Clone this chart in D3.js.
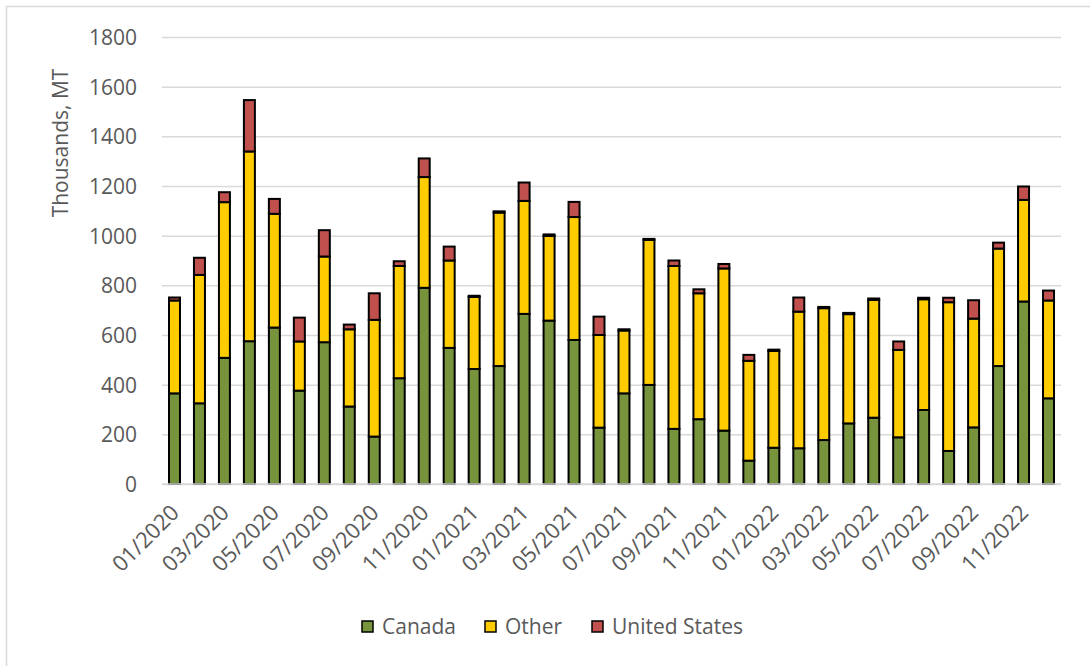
<!DOCTYPE html>
<html>
<head>
<meta charset="utf-8">
<script src="https://cdn.jsdelivr.net/npm/d3@7"></script>
<style>
  body { margin: 0; background: #fff; }
  svg text { font-family: "Open Sans", "Liberation Sans", sans-serif; fill: #595959; }
</style>
</head>
<body>
<div id="wrap"></div>
<script>
//  Month labels, one per bar (every other one is shown on the axis)
const months = [
  "01/2020", "02/2020", "03/2020", "04/2020", "05/2020", "06/2020",
  "07/2020", "08/2020", "09/2020", "10/2020", "11/2020", "12/2020",
  "01/2021", "02/2021", "03/2021", "04/2021", "05/2021", "06/2021",
  "07/2021", "08/2021", "09/2021", "10/2021", "11/2021", "12/2021",
  "01/2022", "02/2022", "03/2022", "04/2022", "05/2022", "06/2022",
  "07/2022", "08/2022", "09/2022", "10/2022", "11/2022", "12/2022",
];

//  Series values in thousands of MT
const canada = [
  365, 325, 508, 575, 630, 376, 571, 312, 191, 426, 790, 548,
  463, 475, 685, 658, 580, 227, 365, 399, 222, 261, 215, 94,
  146, 144, 177, 244, 267, 188, 298, 133, 228, 475, 735, 345,
];
const other = [
  374, 517, 627, 764, 458, 198, 345, 311, 470, 452, 446, 352,
  290, 618, 455, 341, 495, 373, 253, 584, 656, 507, 653, 402,
  390, 550, 531, 440, 474, 352, 446, 599, 438, 473, 409, 394,
];
const unitedStates = [
  12, 69, 40, 207, 60, 96, 106, 19, 107, 19, 75, 56,
  5, 5, 74, 6, 61, 74, 5, 4, 22, 16, 18, 24,
  5, 57, 5, 5, 6, 34, 6, 18, 74, 24, 54, 40,
];

const yTicks = [0, 200, 400, 600, 800, 1000, 1200, 1400, 1600, 1800];

const seriesNames = ["Canada", "Other", "United States"];
const seriesColors = ["#77933C", "#FFCC00", "#C0504D"];

//  Build the table the stack layout wants
const table = months.map((m, i) => ({
  month: m,
  "Canada": canada[i],
  "Other": other[i],
  "United States": unitedStates[i],
}));

const W = 1090, H = 666;
const margin = { top: 37, right: 29, bottom: 182, left: 162 },
  width = W - margin.left - margin.right,
  height = H - margin.top - margin.bottom;

const svg = d3.select("#wrap").append("svg")
  .attr("width", W)
  .attr("height", H);

//  Light chart border (runs off the right/bottom edge like the reference)
svg.append("rect")
  .attr("x", 6.5).attr("y", 6.5)
  .attr("width", W + 20).attr("height", H + 20)
  .attr("fill", "none")
  .attr("stroke", "#d9d9d9")
  .attr("stroke-width", 1.5);

const g = svg.append("g")
  .attr("transform", "translate(" + margin.left + "," + margin.top + ")");

const x = d3.scaleBand().domain(months).range([0, width]).paddingInner(0.56).paddingOuter(0.28);
const y = d3.scaleLinear().domain([0, 1800]).range([height, 0]);

//  Gridlines + y labels
const yAxis = g.append("g")
  .call(d3.axisLeft(y).tickValues(yTicks).tickFormat(d3.format("d")).tickSize(-width).tickPadding(25));
yAxis.select(".domain").remove();
yAxis.selectAll(".tick line").attr("stroke", "#d9d9d9").attr("stroke-width", 1.5);
yAxis.selectAll(".tick text")
  .attr("fill", "#595959")
  .style("font-size", "21px")
  .attr("dy", "0.35em");

//  Stacked bars
const stacked = d3.stack().keys(seriesNames)(table);

g.selectAll(".series")
  .data(stacked)
  .enter()
  .append("g")
  .attr("class", "series")
  .attr("fill", (d, i) => seriesColors[i])
  .selectAll("rect")
  .data((d) => d)
  .enter()
  .append("rect")
  .attr("x", (d) => x(d.data.month))
  .attr("width", x.bandwidth())
  .attr("y", (d) => y(d[1]))
  .attr("height", (d) => y(d[0]) - y(d[1]))
  .attr("stroke", "#000")
  .attr("stroke-width", 2);

//  Baseline
g.append("line")
  .attr("x1", 0).attr("x2", width)
  .attr("y1", height).attr("y2", height)
  .attr("stroke", "#d9d9d9")
  .attr("stroke-width", 1.5);

//  X labels, every other month, rotated
const xAxis = g.append("g")
  .attr("transform", "translate(0," + height + ")")
  .call(d3.axisBottom(x).tickValues(months.filter((m, i) => i % 2 === 0)).tickSize(0));
xAxis.select(".domain").remove();
xAxis.selectAll(".tick text")
  .attr("fill", "#595959")
  .style("font-size", "22px")
  .attr("text-anchor", "end")
  .attr("dy", null)
  .attr("y", 0)
  .attr("transform", "translate(6,30) rotate(-45)");

//  Axis title
svg.append("text")
  .attr("transform", "translate(68,143) rotate(-90)")
  .attr("text-anchor", "middle")
  .style("font-size", "21px")
  .text("Thousands, MT");

//  Legend
const legendX = [362, 485, 592];
const legend = svg.selectAll(".legend")
  .data(seriesNames)
  .enter()
  .append("g")
  .attr("class", "legend")
  .attr("transform", (d, i) => "translate(" + legendX[i] + ",627)");
legend.append("rect")
  .attr("x", 0).attr("y", -6)
  .attr("width", 11).attr("height", 11)
  .attr("fill", (d, i) => seriesColors[i])
  .attr("stroke", "#000")
  .attr("stroke-width", 1.5);
legend.append("text")
  .attr("x", 20).attr("y", 0)
  .attr("dy", "0.35em")
  .style("font-size", "21px")
  .text((d) => d);
</script>
</body>
</html>
